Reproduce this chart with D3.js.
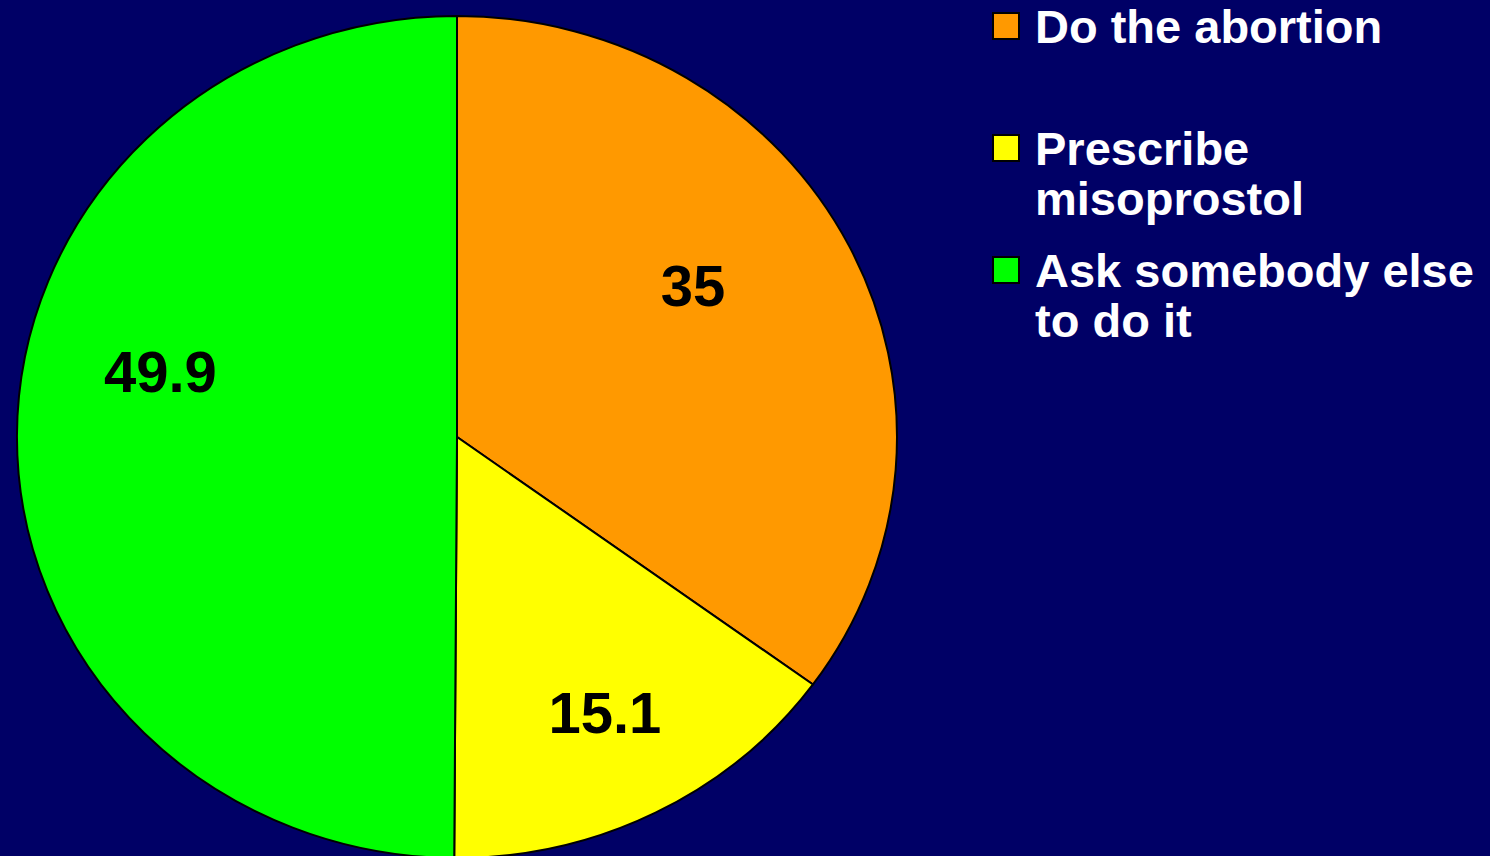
<!DOCTYPE html>
<html>
<head>
<meta charset="utf-8">
<script src="https://cdn.jsdelivr.net/npm/d3@7"></script>
<style>
  html, body { margin: 0; padding: 0; background: #000066; }
  svg { display: block; }
</style>
</head>
<body>
<div id="chart"></div>
<script>
// data
var categories = ["Do the abortion", "Prescribe misoprostol", "Ask somebody else to do it"];
var values = [35, 15.1, 49.9];
var valueLabels = ["35", "15.1", "49.9"];
// legend text split over lines like the original
var legendLines = [["Do the abortion"], ["Prescribe", "misoprostol"], ["Ask somebody else", "to do it"]];
var colors = ["#ff9900", "#ffff00", "#00ff00"];

var width = 1490,
    height = 856;

// pie is slightly wider than tall in the original
var cx = 457, cy = 437, rx = 440, ry = 421;

// label placement (radius fraction, angle in degrees from 12 o'clock)
var labelPos = [{f: 0.647, a: 56}, {f: 0.735, a: 152.8}, {f: 0.692, a: 283}];

var svg = d3.select("#chart")
  .append("svg")
    .attr("width", width)
    .attr("height", height);

svg.append("rect")
  .attr("width", width)
  .attr("height", height)
  .attr("fill", "#000066");

var color = d3.scaleOrdinal()
  .domain(categories)
  .range(colors);

var pie = d3.pie()
  .sort(null)
  .value(function(d) { return d.value; });

var data_ready = pie(categories.map(function(c, i) { return {key: c, value: values[i], label: valueLabels[i]}; }));

var arc = d3.arc()
  .innerRadius(0)
  .outerRadius(ry);

var g = svg.append("g")
  .attr("transform", "translate(" + cx + "," + cy + ") scale(" + (rx / ry) + ",1)");

g.selectAll("path")
  .data(data_ready)
  .enter()
  .append("path")
    .attr("d", arc)
    .attr("fill", function(d) { return color(d.data.key); })
    .attr("stroke", "#000")
    .attr("stroke-width", 2)
    .attr("vector-effect", "non-scaling-stroke");

// value labels
svg.selectAll("text.val")
  .data(data_ready)
  .enter()
  .append("text")
    .attr("class", "val")
    .attr("x", function(d, i) { return cx + labelPos[i].f * rx * Math.sin(labelPos[i].a * Math.PI / 180); })
    .attr("y", function(d, i) { return cy - labelPos[i].f * ry * Math.cos(labelPos[i].a * Math.PI / 180); })
    .attr("dy", "0.36em")
    .attr("text-anchor", "middle")
    .style("font-family", "'Liberation Sans', Arial, sans-serif")
    .style("font-weight", "bold")
    .style("font-size", "58px")
    .attr("fill", "#000")
    .text(function(d) { return d.data.label; });

// legend
var legendTops = [13, 135, 257];
var lineH = 50;

var legend = svg.selectAll("g.leg")
  .data(categories)
  .enter()
  .append("g")
    .attr("class", "leg")
    .attr("transform", function(d, i) { return "translate(993," + legendTops[i] + ")"; });

legend.append("rect")
  .attr("x", 0)
  .attr("y", 0)
  .attr("width", 26)
  .attr("height", 26)
  .attr("fill", function(d) { return color(d); })
  .attr("stroke", "#000")
  .attr("stroke-width", 2);

legend.append("text")
  .attr("x", 42)
  .attr("y", 30)
  .style("font-family", "'Liberation Sans', Arial, sans-serif")
  .style("font-weight", "bold")
  .style("font-size", "47px")
  .attr("fill", "#fff")
  .selectAll("tspan")
  .data(function(d, i) { return legendLines[i]; })
  .enter()
  .append("tspan")
    .attr("x", 42)
    .attr("dy", function(d, j) { return j == 0 ? 0 : lineH; })
    .text(function(d) { return d; });
</script>
</body>
</html>
